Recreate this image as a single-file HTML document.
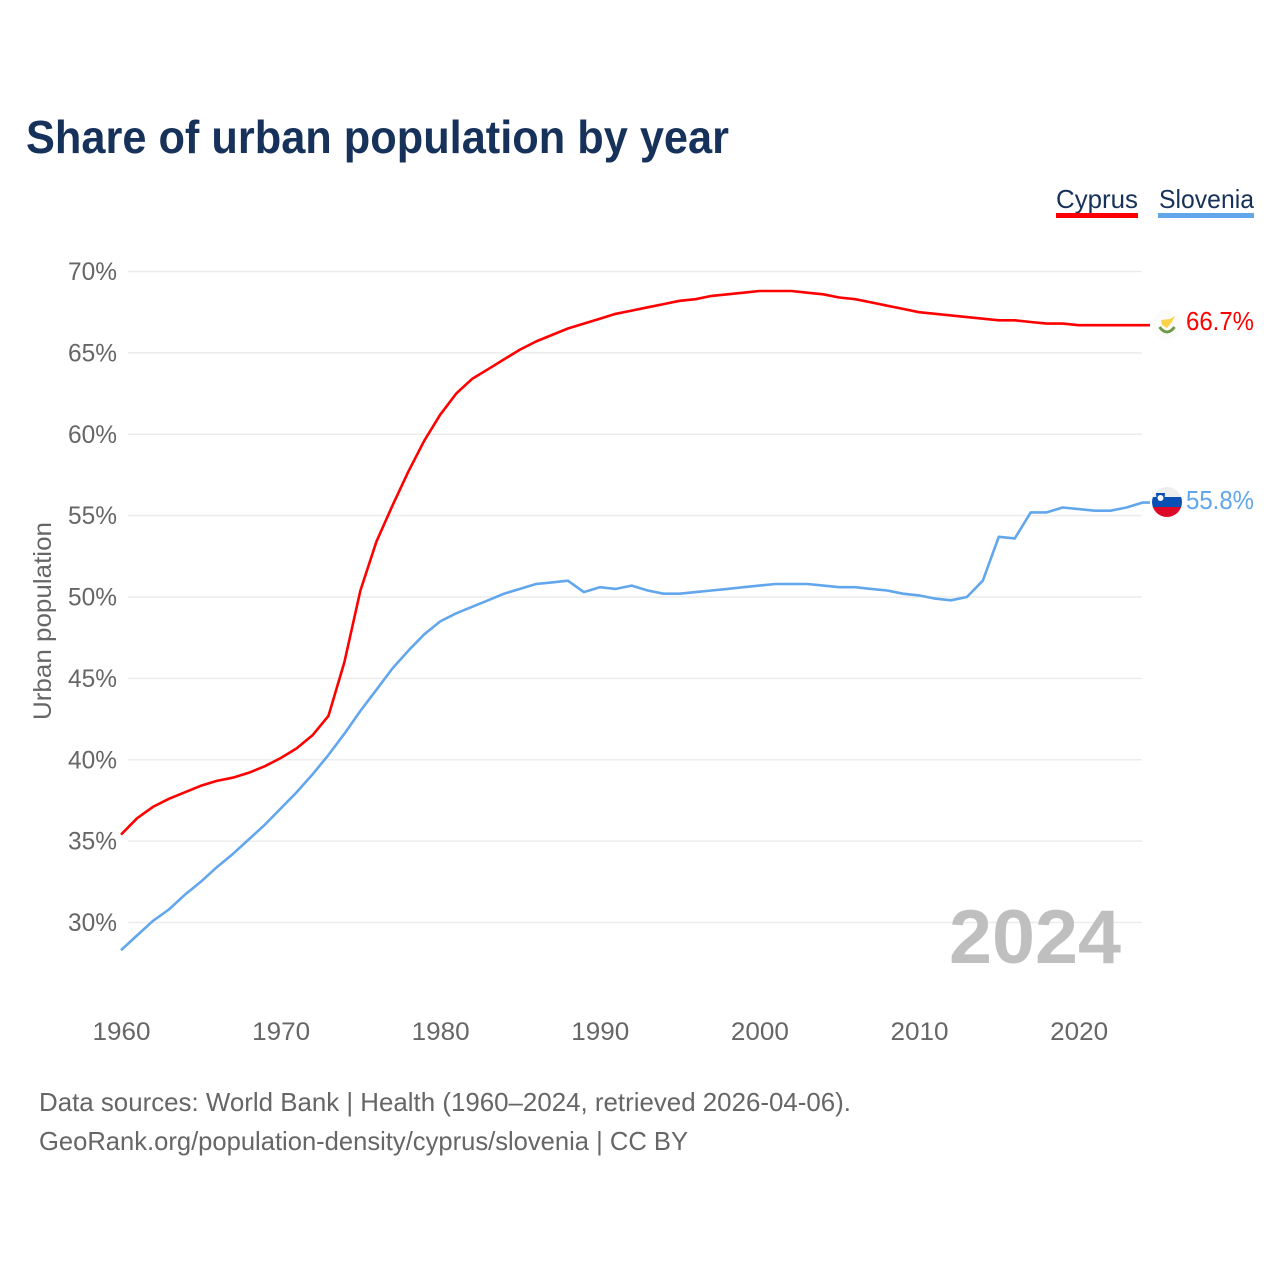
<!DOCTYPE html>
<html lang="en">
<head>
<meta charset="utf-8">
<title>Share of urban population by year</title>
<style>
html,body{margin:0;padding:0;background:#fff;}
svg{display:block;}
text{font-family:"Liberation Sans",sans-serif;}
</style>
</head>
<body>
<svg id="chart" xmlns="http://www.w3.org/2000/svg" width="1280" height="1280" viewBox="0 0 1280 1280">
  <rect x="0" y="0" width="1280" height="1280" fill="#fff"/>
  <text x="26" y="153" font-size="46" font-weight="700" fill="#17325a" textLength="703" lengthAdjust="spacingAndGlyphs">Share of urban population by year</text>

  <g>
    <text x="1056" y="208" font-size="26" fill="#17325a" textLength="82" lengthAdjust="spacingAndGlyphs">Cyprus</text>
    <rect x="1056" y="213" width="82" height="5" fill="#ff0000"/>
  </g>
  <g>
    <text x="1159" y="208" font-size="26" fill="#17325a" textLength="95" lengthAdjust="spacingAndGlyphs">Slovenia</text>
    <rect x="1158" y="213" width="96" height="5" fill="#62a6ec"/>
  </g>

  <g id="grid"></g>
  <g id="yticks"></g>
  <g id="xticks"></g>
  <text transform="translate(51,621) rotate(-90)" text-anchor="middle" font-size="25" fill="#666" textLength="198" lengthAdjust="spacingAndGlyphs">Urban population</text>

  <text x="949" y="963" font-size="76" font-weight="700" fill="#bfbfbf" textLength="172" lengthAdjust="spacingAndGlyphs">2024</text>

  <g id="series"></g>

  <g>
    <circle cx="1167" cy="325" r="15" fill="#fbfbfb"/>
    <path d="M1161 320 L1170 319 L1175 316 L1172 322 L1167 328 L1162 325 Z" fill="#fbd34a"/>
    <path d="M1159.5 327 Q1167 337 1174.5 327" fill="none" stroke="#6f9a45" stroke-width="3"/>
  </g>
  <g>
    <clipPath id="sloClip"><circle cx="1167" cy="502" r="15"/></clipPath>
    <g clip-path="url(#sloClip)">
      <rect x="1152" y="487" width="30" height="10" fill="#eeeeee"/>
      <rect x="1152" y="497" width="30" height="10" fill="#0a50b4"/>
      <rect x="1152" y="507" width="30" height="10" fill="#dc0a28"/>
      <path d="M1156 493 L1165 493 L1164.5 499 L1160.5 502 L1156.5 499 Z" fill="#0a50b4"/>
      <circle cx="1160.5" cy="498" r="3" fill="#fff"/>
    </g>
  </g>
  <text x="1186" y="330" font-size="26" fill="#ff0000" textLength="68" lengthAdjust="spacingAndGlyphs">66.7%</text>
  <text x="1186" y="509" font-size="26" fill="#62a6ec" textLength="68" lengthAdjust="spacingAndGlyphs">55.8%</text>

  <text x="39" y="1111" font-size="26" fill="#666" textLength="812" lengthAdjust="spacingAndGlyphs">Data sources: World Bank | Health (1960–2024, retrieved 2026-04-06).</text>
  <text x="39" y="1150" font-size="26" fill="#666" textLength="649" lengthAdjust="spacingAndGlyphs">GeoRank.org/population-density/cyprus/slovenia | CC BY</text>
</svg>
<script>
const firstYear = 1960;
const yTickValues = [30, 35, 40, 45, 50, 55, 60, 65, 70];
const xTickValues = [1960, 1970, 1980, 1990, 2000, 2010, 2020];
const cyprusValues = [35.4,36.4,37.1,37.6,38.0,38.4,38.7,38.9,39.2,39.6,40.1,40.7,41.5,42.7,46.0,50.4,53.4,55.6,57.7,59.6,61.2,62.5,63.4,64.0,64.6,65.2,65.7,66.1,66.5,66.8,67.1,67.4,67.6,67.8,68.0,68.2,68.3,68.5,68.6,68.7,68.8,68.8,68.8,68.7,68.6,68.4,68.3,68.1,67.9,67.7,67.5,67.4,67.3,67.2,67.1,67.0,67.0,66.9,66.8,66.8,66.7,66.7,66.7,66.7,66.7];
const sloveniaValues = [28.3,29.2,30.1,30.8,31.7,32.5,33.4,34.2,35.1,36.0,37.0,38.0,39.1,40.3,41.6,43.0,44.3,45.6,46.7,47.7,48.5,49.0,49.4,49.8,50.2,50.5,50.8,50.9,51.0,50.3,50.6,50.5,50.7,50.4,50.2,50.2,50.3,50.4,50.5,50.6,50.7,50.8,50.8,50.8,50.7,50.6,50.6,50.5,50.4,50.2,50.1,49.9,49.8,50.0,51.0,53.7,53.6,55.2,55.2,55.5,55.4,55.3,55.3,55.5,55.8];

const NS = 'http://www.w3.org/2000/svg';
function xScale(year) { return 121 + (year - 1960) * 15.96; }
function yScale(value) { return 922.5 - (value - 30) * 16.275; }
function make(tag, attrs, parent, content) {
  const el = document.createElementNS(NS, tag);
  for (const k in attrs) el.setAttribute(k, attrs[k]);
  if (content !== undefined) el.textContent = content;
  parent.appendChild(el);
  return el;
}
const grid = document.getElementById('grid');
const yticks = document.getElementById('yticks');
const xticks = document.getElementById('xticks');
const series = document.getElementById('series');

yTickValues.forEach(function (v) {
  const line = make('line', {x1: 128, x2: 1142, y1: yScale(v), y2: yScale(v), stroke: '#ececec', 'stroke-width': 1.6}, grid);
  
  
  const label = make('text', {x: 117, y: yScale(v) + 8.5, 'text-anchor': 'end', 'font-size': 25, fill: '#666', textLength: 49, lengthAdjust: 'spacingAndGlyphs'}, yticks, v + '%');
  
  
});

xTickValues.forEach(function (y) {
  const label = make('text', {x: xScale(y) + 0.5, y: 1040, 'text-anchor': 'middle', 'font-size': 25, fill: '#666', textLength: 58, lengthAdjust: 'spacingAndGlyphs'}, xticks, String(y));
  
  
});

function toPoints(values) {
  const pts = values.map(function (v, i) { return xScale(firstYear + i).toFixed(1) + ',' + yScale(v).toFixed(1); });
  // short flat connector from the last data point toward the flag
  pts.push('1150,' + yScale(values[values.length - 1]).toFixed(1));
  return pts.join(' ');
}
const cyprusLine = make('polyline', {points: toPoints(cyprusValues), fill: 'none', stroke: '#ff0000', 'stroke-width': 2.6, 'stroke-linejoin': 'round'}, series);


const sloveniaLine = make('polyline', {points: toPoints(sloveniaValues), fill: 'none', stroke: '#62a6ec', 'stroke-width': 2.6, 'stroke-linejoin': 'round'}, series);


</script>
</body>
</html>
